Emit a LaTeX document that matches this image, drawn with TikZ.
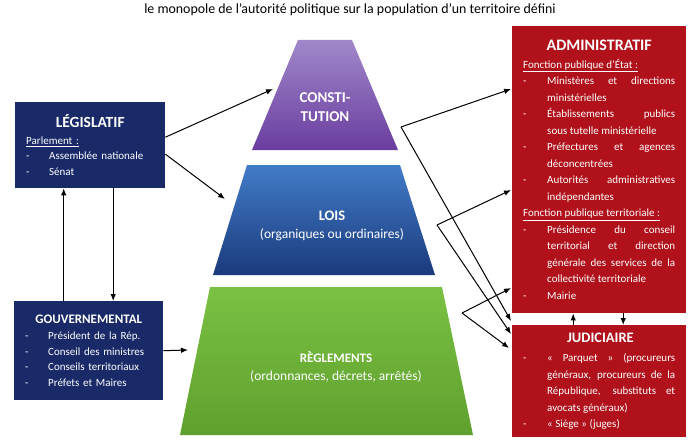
\documentclass[tikz,border=0pt]{standalone}
\usepackage{fontspec}
\setmainfont{Carlito}
\usetikzlibrary{arrows.meta,calc}

\definecolor{navybox}{HTML}{1A2A68}
\definecolor{redbox}{HTML}{B0111B}
\definecolor{violethaut}{HTML}{A088CA}
\definecolor{violetbas}{HTML}{6A3D9F}
\definecolor{bleuhaut}{HTML}{427CC8}
\definecolor{bleubas}{HTML}{1B3A7C}
\definecolor{verthaut}{HTML}{7AC143}
\definecolor{vertbas}{HTML}{5FA02E}

% tiret avec retrait suspendu
\newcommand{\tiret}[2][24pt]{\par\hangindent=#1\hangafter=1\noindent\makebox[#1][l]{-}#2\par}
\newcommand{\boxtitle}[1]{\fontsize{#1}{18}\selectfont\bfseries}

\tikzset{
  arr/.style={-{Latex[length=7pt,width=5.5pt]}, line width=1pt},
  navy box/.style={fill=navybox, text=white, anchor=north west, inner xsep=11pt, inner ysep=0pt,
    align=left, font={\fontsize{11}{15.5}\selectfont\parindent=0pt}},
  red box/.style={fill=redbox, text=white, anchor=north west, inner xsep=11pt, inner ysep=0pt,
    text width=152pt, align=justify, font={\fontsize{11}{16.5}\selectfont\parindent=0pt}},
  level/.style={text=white, align=center, font={\fontsize{13.5}{18}\selectfont}}
}

\begin{document}
\begin{tikzpicture}[x=1pt, y=-1pt]
\useasboundingbox (0,0) rectangle (700,441);

\node (titre) at (350,10) {\fontsize{13.9}{15}\selectfont le monopole de l'autorité politique sur la population d’un territoire défini};

% pyramide
\shade[top color=violethaut, bottom color=violetbas] (252,150) -- (398,150) -- (352,40) -- (298,40) -- cycle;
\shade[top color=bleuhaut, bottom color=bleubas] (213,275) -- (435,275) -- (400,165) -- (247,165) -- cycle;
\shade[top color=verthaut, bottom color=vertbas] (180,435) -- (473,435) -- (442,287) -- (210,287) -- cycle;

\node[level, font={\fontsize{15}{19}\selectfont\bfseries}] (constit) at (325,107.5) {CONSTI-\\TUTION};
\node[level] (lois) at (332,226) {\textbf{\fontsize{14.5}{17}\selectfont LOIS}\\(organiques ou ordinaires)};
\node[level] (regl) at (336,367) {\textbf{\fontsize{13}{17}\selectfont RÈGLEMENTS}\\(ordonnances, décrets, arrêtés)};

% pouvoirs
\node[navy box, text width=128pt, minimum height=86pt] (leg) at (15,102) {%
  {\centering\boxtitle{15.5}LÉGISLATIF\par}\vspace{1pt}
  \underline{Parlement :}\par
  \tiret[23pt]{Assemblée nationale}
  \tiret[23pt]{Sénat}};

\node[navy box, text width=127pt, minimum height=99pt] (gov) at (14,301) {%
  {\centering\boxtitle{13}GOUVERNEMENTAL\par}\vspace{1pt}
  \tiret[23pt]{Président de la Rép.}
  \tiret[23pt]{Conseil des ministres}
  \tiret[23pt]{Conseils territoriaux}
  \tiret[23pt]{Préfets et Maires}};

\node[red box, minimum height=287pt] (admin) at (512,26) {%
  {\centering\boxtitle{16}ADMINISTRATIF\par}\vspace{1pt}
  \underline{Fonction publique d'État :}\par
  \tiret{Ministères et directions\linebreak ministérielles}
  \tiret{Établissements publics\linebreak sous tutelle ministérielle}
  \tiret{Préfectures et agences\linebreak déconcentrées}
  \tiret{Autorités administratives\linebreak indépendantes}
  \underline{Fonction publique territoriale :}\par
  \tiret{Présidence du conseil\linebreak territorial et direction\linebreak générale des services de la\linebreak collectivité territoriale}
  \tiret{Mairie}};

\node[red box, minimum height=112pt] (judi) at (512,325) {%
  \vspace*{6.5pt}
  {\centering\boxtitle{14.5}JUDICIAIRE\par}\vspace{-3.5pt}
  \tiret{« Parquet » (procureurs\linebreak généraux, procureurs de la\linebreak République, substituts et\linebreak avocats généraux)}
  \tiret{« Siège » (juges)}};

% points de depart et d'arrivee sur la pyramide
\coordinate (c1) at (273,89);
\coordinate (c2) at (225,199);
\coordinate (c3) at (188,350);
\coordinate (k1) at (401,127);
\coordinate (k2) at (437,225);
\coordinate (k3) at (462,313);

% fleches
\draw[arr] ([yshift=8pt]leg.east) -- (c1);
\draw[arr] ([yshift=-9pt]leg.east) -- (c2);
\draw[arr] (gov.east) -- (c3);
\draw[arr] ([xshift=-25pt]gov.north) -- ([xshift=-25pt]gov.north |- leg.south);
\draw[arr] ([xshift=23pt]leg.south) -- ([xshift=23pt]leg.south |- gov.north);

\draw[arr] (k1) -- ($(admin.north west)+(-1,63)$);
\draw[arr] (k1) -- ($(judi.north west)+(-1,-4)$);
\draw[arr] (k2) -- ($(admin.north west)+(-1,164)$);
\draw[arr] (k2) -- ($(judi.north west)+(-1,9)$);
\draw[arr] (k3) -- ($(admin.north west)+(-1,262)$);
\draw[arr] (k3) -- ($(judi.north west)+(-3,23)$);

\draw[arr] ([xshift=-26pt]judi.north) -- ([xshift=-26pt]judi.north |- admin.south);
\draw[arr] ([xshift=24pt]admin.south) -- ([xshift=24pt]admin.south |- judi.north);
\end{tikzpicture}
\end{document}
